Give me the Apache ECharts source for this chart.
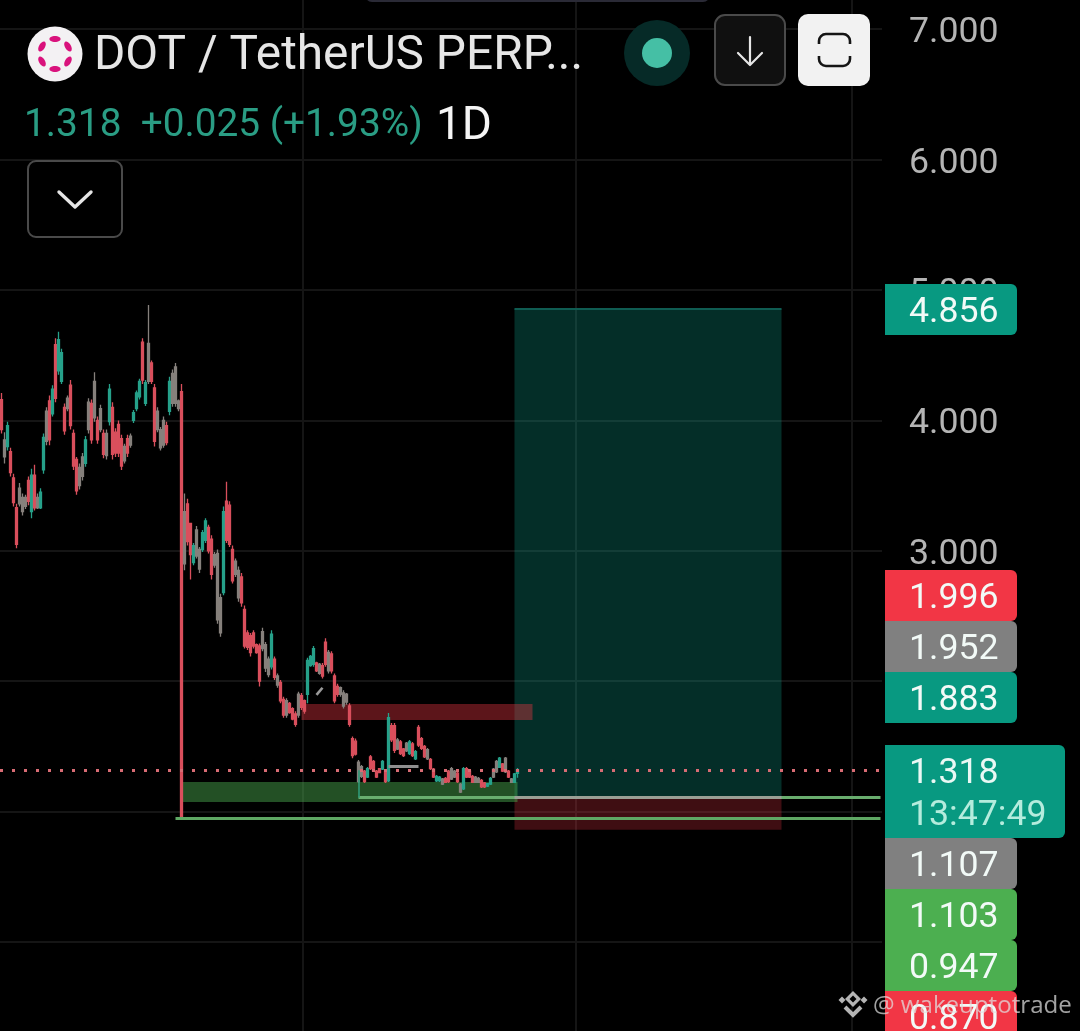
<!DOCTYPE html>
<html><head><meta charset="utf-8">
<style>html,body{margin:0;padding:0;background:#000}#c{width:1080px;height:1031px}</style>
<script src="https://cdn.jsdelivr.net/npm/echarts@6/dist/echarts.min.js"></script></head>
<body><div id="c"></div>
<script>
const highs=[4.21,3.91,3.99,3.79,3.59,3.36,3.52,3.44,3.43,3.57,3.63,3.66,3.44,3.48,3.90,4.10,4.19,4.27,4.63,4.68,4.55,4.13,4.19,4.31,3.93,3.72,3.67,3.75,3.88,4.17,
4.16,4.37,4.03,4.12,3.93,3.93,4.28,4.14,3.94,4.00,3.89,3.82,3.89,3.90,4.08,4.23,4.32,4.63,4.31,4.885,4.46,4.28,4.10,3.95,4.03,3.99,4.335,4.39,4.44,4.16,
4.28,3.44,3.40,3.21,3.06,3.19,3.03,3.16,3.25,3.20,3.12,2.99,3.01,2.67,3.34,3.53,3.38,3.04,2.94,2.88,2.83,2.58,2.39,2.37,2.39,2.29,2.29,2.41,2.30,2.19,
2.39,2.19,2.06,2.01,1.88,1.87,1.84,1.80,1.77,1.92,1.91,1.86,2.18,2.20,2.27,2.15,2.14,2.14,2.33,2.24,2.23,2.06,1.98,1.96,1.93,1.91,1.83,1.575,1.56,1.396,
1.357,1.319,1.342,1.434,1.396,1.319,1.334,1.396,1.319,1.756,1.679,1.679,1.564,1.549,1.488,1.534,1.549,1.534,1.472,1.664,1.572,1.511,1.488,1.411,1.334,1.281,1.273,1.258,1.265,1.319,
1.342,1.319,1.304,1.219,1.342,1.342,1.319,1.281,1.273,1.265,1.25,1.227,1.219,1.265,1.334,1.396,1.419,1.373,1.419,1.319,1.258,1.296,1.335];
const lows=[3.90,3.67,3.77,3.57,3.34,3.02,3.34,3.27,3.32,3.35,3.25,3.31,3.32,3.32,3.59,3.81,3.81,4.03,4.14,4.35,4.28,3.89,4.07,3.93,3.62,3.43,3.47,3.54,3.645,3.90,
3.82,3.99,3.82,3.91,3.71,3.70,3.96,3.70,3.72,3.72,3.62,3.67,3.72,3.79,3.98,4.07,4.16,4.28,4.11,4.28,4.28,3.80,3.91,3.77,3.79,3.81,4.04,4.105,4.105,4.07,
0.947,2.85,3.04,2.78,2.89,2.94,2.83,2.99,3.06,2.98,2.78,2.87,2.44,2.34,2.66,3.06,3.03,2.75,2.80,2.61,2.57,2.25,2.24,2.19,2.25,2.21,1.96,2.23,2.07,2.03,
2.09,2.01,1.95,1.83,1.72,1.72,1.75,1.70,1.65,1.72,1.78,1.75,1.83,2.11,2.11,2.07,2.05,2.02,2.11,2.06,2.06,1.83,1.88,1.88,1.79,1.82,1.65,1.41,1.43,1.219,
1.258,1.219,1.258,1.319,1.304,1.258,1.296,1.319,1.219,1.227,1.534,1.449,1.472,1.434,1.419,1.457,1.434,1.419,1.396,1.495,1.472,1.411,1.396,1.319,1.258,1.227,1.227,1.204,1.219,1.219,
1.242,1.258,1.219,1.143,1.166,1.258,1.258,1.219,1.219,1.219,1.181,1.181,1.189,1.204,1.258,1.296,1.334,1.304,1.296,1.258,1.219,1.219,1.26];
const opens=[4.16,3.85,3.80,3.76,3.56,3.33,3.36,3.41,3.34,3.54,3.30,3.58,3.33,3.33,3.62,4.07,4.15,4.05,4.58,4.38,4.30,4.10,4.09,4.27,3.90,3.70,3.50,3.57,3.67,4.14,
4.13,4.02,4.00,3.93,3.90,3.73,3.99,4.10,3.91,3.97,3.86,3.69,3.86,3.88,4.00,4.09,4.18,4.60,4.13,4.59,4.44,4.25,3.93,3.79,3.81,3.96,4.07,4.36,4.13,4.15,
4.22,2.90,3.36,3.21,2.91,2.96,3.01,3.01,3.08,3.18,3.09,2.89,2.98,2.37,2.68,3.38,3.35,3.01,2.82,2.85,2.80,2.55,2.37,2.35,2.37,2.28,2.27,2.25,2.28,2.17,
2.11,2.17,1.97,1.99,1.86,1.74,1.83,1.79,1.75,1.74,1.89,1.85,1.90,2.12,2.13,2.14,2.13,2.12,2.30,2.08,2.21,2.04,1.96,1.90,1.81,1.84,1.81,1.56,1.54,1.23,
1.345,1.31,1.265,1.42,1.385,1.31,1.33,1.325,1.31,1.235,1.66,1.66,1.48,1.535,1.48,1.465,1.445,1.52,1.405,1.645,1.56,1.50,1.475,1.40,1.325,1.235,1.235,1.21,1.255,1.31,
1.25,1.265,1.295,1.21,1.175,1.33,1.31,1.27,1.225,1.225,1.24,1.22,1.195,1.21,1.265,1.305,1.34,1.365,1.41,1.31,1.25,1.225,1.293];
const closes=[3.93,3.72,3.96,3.60,3.37,3.05,3.48,3.30,3.41,3.38,3.58,3.33,3.41,3.45,3.87,3.84,3.85,4.24,4.17,4.62,4.52,3.92,4.17,3.96,3.65,3.46,3.64,3.72,3.85,3.93,
3.85,4.30,3.85,4.09,3.74,3.90,4.24,3.74,3.75,3.75,3.65,3.80,3.75,3.81,4.06,4.21,4.30,4.31,4.29,4.30,4.30,3.84,4.07,3.93,4.00,3.83,4.30,4.13,4.41,4.09,
0.96,3.30,3.07,2.97,3.04,3.16,2.86,3.14,3.23,3.00,2.82,2.97,2.47,2.64,3.30,3.08,3.05,2.77,2.92,2.64,2.60,2.27,2.26,2.22,2.27,2.22,2.00,2.38,2.10,2.05,
2.36,2.03,2.04,1.85,1.74,1.85,1.76,1.71,1.67,1.90,1.80,1.77,2.16,2.19,2.25,2.08,2.06,2.04,2.13,2.22,2.08,1.85,1.90,1.95,1.91,1.90,1.67,1.43,1.44,1.38,
1.27,1.23,1.33,1.33,1.315,1.265,1.30,1.385,1.23,1.72,1.55,1.47,1.55,1.445,1.43,1.525,1.535,1.43,1.46,1.51,1.485,1.42,1.405,1.33,1.265,1.27,1.265,1.25,1.225,1.23,
1.33,1.31,1.23,1.15,1.33,1.265,1.265,1.225,1.265,1.255,1.19,1.19,1.215,1.255,1.325,1.385,1.41,1.31,1.305,1.265,1.225,1.29,1.318];
// Candles whose colour reads as neutral grey in the picture
const greyCandles=[1,6,7,8,12,15,22,26,27,29,31,33,35,41,43,49,52,53,54,57,58,59,61,65,66,71,72,73,78,79,87,88,89,92,95,99,106,109,113,114,115,119,120,132,135,142,147,150,151,153,158,159,164,165,168,170];
const dayCount=294;
const yTicks=[-1,8];
// position tool levels and zones, [first day, last day, low price, high price]
const targetBox=[171,260,1.107,4.856];
const stopBox=[171,260,0.86,1.107];
const demandZone=[60,172,1.074,1.227];
const supplyZone=[100,177,1.702,1.825];
const lastPrice=1.318;
const lineA=[119,293,1.107];
const lineB=[58,293,0.947];
const tagValues=["4.856","1.996","1.952","1.883","1.107","1.103","0.947","0.870"];
const tagLast="1.318", tagTimer="13:47:49";
const titleText="DOT / TetherUS PERP...", quoteText="1.318  +0.025 (+1.93%)", periodText="1D", markText="@ wakeuptotrade";

const tagTops=[284,570,621,672,838,889,940,991];
const tagFill=['#089981','#f23645','#808080','#089981','#808080','#4caf50','#4caf50','#f23645'];
const F='Roboto';
const greySet=new Set(greyCandles);
const cats=Array.from({length:dayCount},(_,i)=>String(i));
const candles=opens.map((o,i)=>{
  const item={value:[o,closes[i],lows[i],highs[i]]};
  if(greySet.has(i)) item.itemStyle={color:'#86807c',color0:'#86807c',borderColor:'#86807c',borderColor0:'#86807c'};
  return item;
});
const box=(b,color,extra)=>[{xAxis:b[0],yAxis:b[3],itemStyle:Object.assign({color},extra||{})},{xAxis:b[1],yAxis:b[2]}];
const seg=(x0,x1,y0,y1,color,width,type)=>[{xAxis:x0,yAxis:y0,lineStyle:{color,width,type:type||'solid'},symbol:'none'},{xAxis:x1,yAxis:y1,symbol:'none'}];

const g=[];
const txt=(x,y,text,size,fill,z)=>g.push({type:'text',z:z||60,x,y,style:{text,fill,font:`${size}px ${F}`,textBaseline:'middle',textVerticalAlign:'middle'}});
const rrect=(x,y,w,h,r,fill,stroke,lw,z)=>g.push({type:'rect',z:z||50,shape:{x,y,width:w,height:h,r},style:{fill,stroke:stroke||null,lineWidth:lw||0}});
const poly=(pts,stroke,lw)=>g.push({type:'polyline',z:51,shape:{points:pts},style:{stroke,lineWidth:lw,fill:null,lineCap:'round',lineJoin:'round'}});
const diamond=(cx,cy,r,fill)=>g.push({type:'polygon',z:80,shape:{points:[[cx,cy-r],[cx+r,cy],[cx,cy+r],[cx-r,cy]]},style:{fill}});
// top bar sliver
rrect(365,-12,345,14,10,'#2a2a36');
// logo
g.push({type:'circle',z:50,shape:{cx:55,cy:54,r:27.5},style:{fill:'#f3f1f3'}});
for(let k=0;k<6;k++){const a=Math.PI/2+k*Math.PI/3;
  g.push({type:'ellipse',z:51,x:55+15*Math.cos(a),y:54+15*Math.sin(a),rotation:-a+Math.PI/2,shape:{cx:0,cy:0,rx:5.6,ry:3},style:{fill:'#d9127c'}});}
txt(94,57,titleText,47.8,'#e6e6e6');
txt(24,126,quoteText,38.8,'#2a9d84');
txt(436,127,periodText,46,'#f5f5f5');
// live dot
g.push({type:'circle',z:50,shape:{cx:657,cy:53,r:33},style:{fill:'#062a27'}});
g.push({type:'circle',z:51,shape:{cx:657,cy:53,r:15},style:{fill:'#45bfa5'}});
// down button
rrect(715,15,70,70,10,'#101010','#4a4a4a',2);
poly([[750,37],[750,64]],'#e6e6e6',2.2);
poly([[738,53],[750,65],[762,53]],'#e6e6e6',2.2);
// fullscreen button
rrect(798,14,72,72,10,'#f2f2f2');
g.push({type:'rect',z:51,shape:{x:819,y:34,width:31,height:32,r:7},style:{fill:null,stroke:'#151515',lineWidth:2.6}});
g.push({type:'rect',z:52,shape:{x:815,y:44,width:39,height:12},style:{fill:'#f2f2f2'}});
// chevron button
rrect(28,161,94,76,8,'#000','#4a4a4a',2);
poly([[59,192],[75,207],[91,192]],'#e6e6e6',3.4);
// price tags
tagValues.forEach((v,i)=>{
  rrect(885,tagTops[i],132,51,[0,6,6,0],tagFill[i],null,0,50+i);
  txt(909,tagTops[i]+29,v,35.7,'#f2faf7',70);
});
rrect(885,745,180,93,[0,6,6,0],'#089981',null,0,55);
txt(909,774,tagLast,35.7,'#eaf8f4',70);
txt(909,816,tagTimer,35.7,'#b5ecdd',70);
// watermark
diamond(853,999,8,'rgba(225,225,225,.8)');
diamond(853,999,3.5,'#000');
g.push({type:'polyline',z:80,shape:{points:[[845,1007],[853,1015],[861,1007]]},style:{stroke:'rgba(225,225,225,.8)',lineWidth:4,fill:null}});
diamond(842,1000,3.5,'rgba(225,225,225,.8)');
diamond(864,1000,3.5,'rgba(225,225,225,.8)');
g.push({type:'text',z:80,x:873,y:1006,style:{text:markText,fill:'rgba(225,225,225,.72)',font:`24.1px "Open Sans"`,textBaseline:'middle',textVerticalAlign:'middle'}});

const grid='#151515';
const xMarks=new Set([9,101,192,284]);
const chart=echarts.init(document.getElementById('c'),null,{renderer:'canvas'});
chart.setOption({
  backgroundColor:'#000',animation:false,
  grid:{left:0,width:882,top:-101.2,height:1173.6,containLabel:false,outerBoundsMode:'none'},
  xAxis:{type:'category',data:cats,boundaryGap:true,
    axisLine:{show:false},axisTick:{show:false},axisLabel:{show:false},
    splitLine:{show:true,showMinLine:false,showMaxLine:false,interval:(i)=>xMarks.has(i),lineStyle:{color:grid,width:2}}},
  yAxis:{type:'value',position:'right',min:yTicks[0],max:yTicks[1],interval:1,scale:false,
    axisLine:{show:false},axisTick:{show:false},
    axisLabel:{color:'#b4b4b4',fontFamily:F,fontSize:35.7,margin:27,verticalAlign:'top',lineHeight:8,formatter:v=>v.toFixed(3)},
    splitLine:{show:true,lineStyle:{color:grid,width:2}}},
  series:[{type:'candlestick',data:candles,barWidth:2.8,clip:false,
    itemStyle:{color:'#26a18a',color0:'#d94f5c',borderColor:'#26a18a',borderColor0:'#d94f5c',borderWidth:1.3},
    markArea:{silent:true,data:[
      box(targetBox,'rgba(14,165,145,.28)',{borderColor:'transparent'}),
      box(stopBox,'rgba(242,54,69,.26)'),
      box(demandZone,'rgba(76,175,80,.46)'),
      box(supplyZone,'rgba(242,54,69,.38)')]},
    markLine:{silent:true,animation:false,symbol:'none',label:{show:false},data:[
      {yAxis:lastPrice,lineStyle:{color:'#d86c74',width:3,type:[3,9]},symbol:'none'},
      seg(targetBox[0],targetBox[1],targetBox[3],targetBox[3],'#0f5c52',2),
      seg(lineA[0],lineA[1],lineA[2],lineA[2],'#69ad6e',3),
      seg(lineB[0],lineB[1],lineB[2],lineB[2],'#5fa864',3),
      seg(171,260,1.107,1.107,'#9a9f95',3),
      seg(119,119,1.107,lastPrice,'#2f9a78',1.6),
      seg(129,139,1.35,1.35,'#8f8f8f',3),
      seg(105,107,1.895,1.95,'#9a9a9a',2.6)
    ]}
  }],
  graphic:{elements:g}
});
</script></body></html>
